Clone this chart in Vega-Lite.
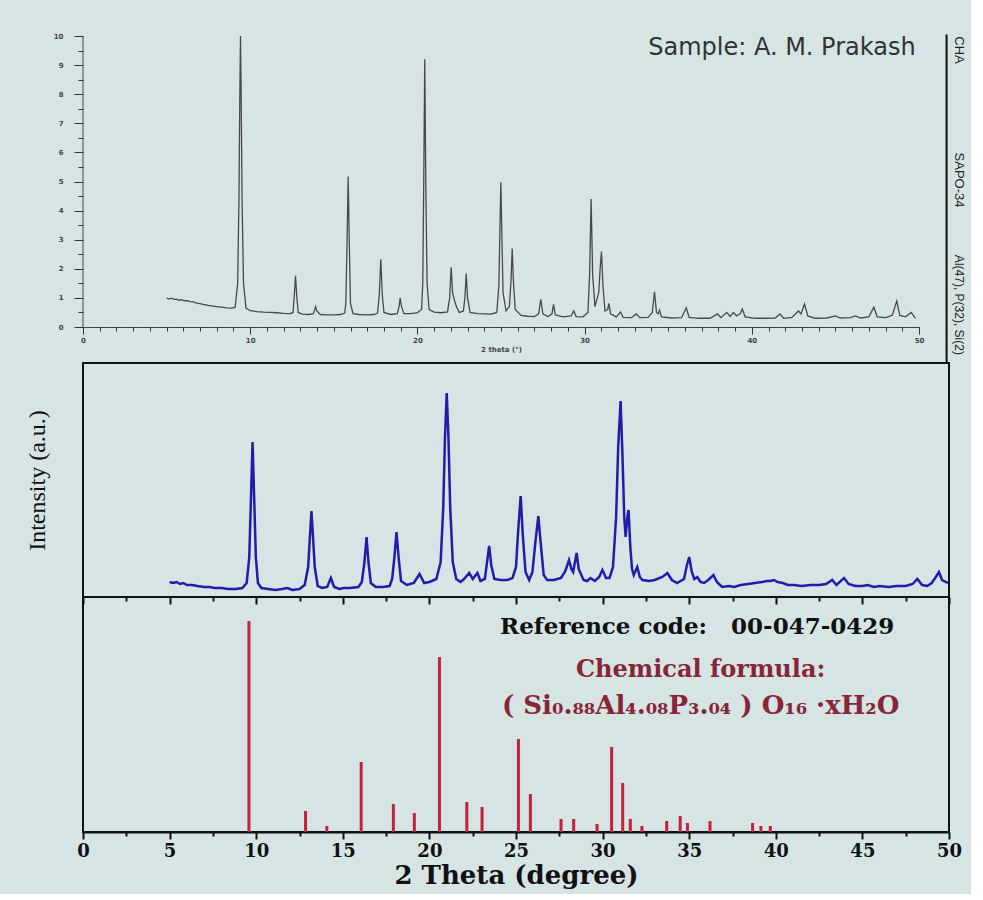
{
"$schema": "https://vega.github.io/schema/vega-lite/v6.json",
"background": "#d6e4e4",
"padding": {"left": 24, "top": 32, "right": 5, "bottom": 5},
"spacing": 0,
"bounds": "flush",
"config": {"view": {"stroke": null}, "axis": {"grid": false}},
"datasets": {
"top": [
{"a":5.0,"v":1.0},{"a":5.15,"v":0.96},{"a":5.3,"v":0.99},{"a":5.45,"v":0.95},{"a":5.6,"v":0.96},{"a":5.75,"v":0.92},{"a":5.9,"v":0.94},{"a":6.05,"v":0.9},{"a":6.2,"v":0.91},{"a":6.4,"v":0.87},{"a":6.6,"v":0.86},{"a":6.8,"v":0.82},{"a":7.0,"v":0.8},{"a":7.25,"v":0.77},{"a":7.5,"v":0.74},{"a":7.75,"v":0.72},{"a":8.0,"v":0.7},{"a":8.3,"v":0.68},{"a":8.6,"v":0.66},{"a":8.9,"v":0.65},{"a":9.1,"v":0.68},{"a":9.25,"v":1.5},{"a":9.33,"v":4.5},{"a":9.38,"v":8.0},{"a":9.42,"v":10.0},{"a":9.46,"v":8.0},{"a":9.51,"v":4.5},{"a":9.6,"v":1.5},{"a":9.75,"v":0.65},{"a":10.0,"v":0.56},{"a":10.4,"v":0.53},{"a":10.8,"v":0.51},{"a":11.2,"v":0.5},{"a":11.6,"v":0.49},{"a":12.0,"v":0.47},{"a":12.4,"v":0.46},{"a":12.56,"v":0.5},{"a":12.64,"v":1.1},{"a":12.71,"v":1.76},{"a":12.78,"v":1.1},{"a":12.87,"v":0.5},{"a":13.1,"v":0.44},{"a":13.5,"v":0.43},{"a":13.78,"v":0.46},{"a":13.85,"v":0.58},{"a":13.91,"v":0.7},{"a":13.98,"v":0.55},{"a":14.2,"v":0.43},{"a":14.6,"v":0.42},{"a":15.0,"v":0.42},{"a":15.4,"v":0.43},{"a":15.65,"v":0.48},{"a":15.72,"v":0.8},{"a":15.79,"v":2.8},{"a":15.86,"v":5.17},{"a":15.93,"v":2.8},{"a":16.0,"v":0.8},{"a":16.15,"v":0.46},{"a":16.5,"v":0.43},{"a":17.0,"v":0.42},{"a":17.4,"v":0.43},{"a":17.62,"v":0.48},{"a":17.72,"v":1.1},{"a":17.81,"v":2.33},{"a":17.9,"v":1.1},{"a":18.0,"v":0.5},{"a":18.4,"v":0.43},{"a":18.8,"v":0.46},{"a":18.9,"v":0.7},{"a":18.97,"v":1.0},{"a":19.05,"v":0.7},{"a":19.2,"v":0.46},{"a":19.6,"v":0.46},{"a":20.0,"v":0.49},{"a":20.25,"v":0.6},{"a":20.32,"v":1.5},{"a":20.38,"v":5.0},{"a":20.44,"v":9.2},{"a":20.5,"v":5.0},{"a":20.58,"v":1.5},{"a":20.7,"v":0.6},{"a":21.0,"v":0.51},{"a":21.4,"v":0.49},{"a":21.8,"v":0.52},{"a":21.93,"v":1.0},{"a":22.02,"v":2.05},{"a":22.1,"v":1.2},{"a":22.22,"v":0.9},{"a":22.35,"v":0.68},{"a":22.5,"v":0.5},{"a":22.75,"v":0.55},{"a":22.84,"v":1.0},{"a":22.92,"v":1.84},{"a":23.0,"v":1.0},{"a":23.15,"v":0.5},{"a":23.6,"v":0.46},{"a":24.0,"v":0.45},{"a":24.4,"v":0.44},{"a":24.75,"v":0.5},{"a":24.87,"v":1.4},{"a":24.93,"v":3.2},{"a":24.99,"v":4.97},{"a":25.05,"v":3.2},{"a":25.12,"v":1.2},{"a":25.3,"v":0.55},{"a":25.5,"v":0.7},{"a":25.6,"v":1.6},{"a":25.67,"v":2.7},{"a":25.74,"v":1.6},{"a":25.85,"v":0.6},{"a":26.2,"v":0.4},{"a":26.6,"v":0.37},{"a":27.0,"v":0.36},{"a":27.25,"v":0.45},{"a":27.38,"v":0.95},{"a":27.5,"v":0.45},{"a":27.8,"v":0.36},{"a":28.05,"v":0.45},{"a":28.14,"v":0.78},{"a":28.25,"v":0.42},{"a":28.7,"v":0.35},{"a":29.2,"v":0.38},{"a":29.35,"v":0.56},{"a":29.5,"v":0.36},{"a":29.9,"v":0.35},{"a":30.2,"v":0.5},{"a":30.3,"v":1.8},{"a":30.39,"v":4.4},{"a":30.48,"v":1.8},{"a":30.62,"v":0.7},{"a":30.85,"v":1.2},{"a":30.93,"v":2.0},{"a":31.01,"v":2.59},{"a":31.1,"v":1.4},{"a":31.22,"v":0.55},{"a":31.38,"v":0.6},{"a":31.45,"v":0.81},{"a":31.55,"v":0.45},{"a":31.9,"v":0.35},{"a":32.15,"v":0.52},{"a":32.3,"v":0.33},{"a":32.8,"v":0.32},{"a":33.09,"v":0.45},{"a":33.3,"v":0.32},{"a":33.8,"v":0.33},{"a":34.05,"v":0.5},{"a":34.18,"v":1.21},{"a":34.3,"v":0.5},{"a":34.4,"v":0.45},{"a":34.48,"v":0.58},{"a":34.6,"v":0.35},{"a":35.2,"v":0.31},{"a":35.8,"v":0.32},{"a":36.08,"v":0.66},{"a":36.25,"v":0.33},{"a":36.8,"v":0.3},{"a":37.5,"v":0.3},{"a":37.95,"v":0.45},{"a":38.15,"v":0.32},{"a":38.5,"v":0.5},{"a":38.7,"v":0.36},{"a":38.9,"v":0.5},{"a":39.1,"v":0.38},{"a":39.3,"v":0.45},{"a":39.43,"v":0.62},{"a":39.6,"v":0.35},{"a":40.2,"v":0.3},{"a":40.8,"v":0.3},{"a":41.4,"v":0.31},{"a":41.69,"v":0.45},{"a":41.9,"v":0.3},{"a":42.4,"v":0.33},{"a":42.79,"v":0.55},{"a":42.95,"v":0.45},{"a":43.15,"v":0.79},{"a":43.35,"v":0.38},{"a":43.8,"v":0.3},{"a":44.5,"v":0.31},{"a":45.0,"v":0.38},{"a":45.3,"v":0.31},{"a":45.9,"v":0.32},{"a":46.2,"v":0.38},{"a":46.5,"v":0.31},{"a":47.0,"v":0.35},{"a":47.3,"v":0.68},{"a":47.5,"v":0.35},{"a":48.0,"v":0.32},{"a":48.4,"v":0.4},{"a":48.67,"v":0.89},{"a":48.85,"v":0.4},{"a":49.2,"v":0.35},{"a":49.53,"v":0.5},{"a":49.79,"v":0.3}
],
"mid": [
{"a":5.0,"v":15},{"a":5.2,"v":14},{"a":5.4,"v":15},{"a":5.6,"v":13},{"a":5.8,"v":14},{"a":6.0,"v":12},{"a":6.3,"v":12},{"a":6.6,"v":11},{"a":7.0,"v":10},{"a":7.3,"v":10},{"a":7.6,"v":9},{"a":8.0,"v":9},{"a":8.4,"v":8},{"a":8.8,"v":8},{"a":9.2,"v":9},{"a":9.45,"v":14},{"a":9.6,"v":40},{"a":9.7,"v":100},{"a":9.79,"v":155},{"a":9.88,"v":100},{"a":9.98,"v":40},{"a":10.1,"v":14},{"a":10.3,"v":9},{"a":10.7,"v":8},{"a":11.1,"v":7},{"a":11.5,"v":8},{"a":11.8,"v":9},{"a":12.1,"v":7},{"a":12.5,"v":8},{"a":12.8,"v":12},{"a":13.0,"v":30},{"a":13.1,"v":60},{"a":13.19,"v":86},{"a":13.28,"v":60},{"a":13.38,"v":30},{"a":13.55,"v":11},{"a":13.8,"v":9},{"a":14.1,"v":10},{"a":14.31,"v":19},{"a":14.5,"v":10},{"a":14.8,"v":8},{"a":15.06,"v":9},{"a":15.4,"v":9},{"a":15.9,"v":10},{"a":16.1,"v":15},{"a":16.25,"v":35},{"a":16.37,"v":60},{"a":16.48,"v":35},{"a":16.62,"v":14},{"a":16.9,"v":10},{"a":17.3,"v":10},{"a":17.7,"v":11},{"a":17.85,"v":18},{"a":17.98,"v":40},{"a":18.1,"v":65},{"a":18.22,"v":40},{"a":18.36,"v":16},{"a":18.7,"v":12},{"a":19.1,"v":14},{"a":19.43,"v":23},{"a":19.7,"v":14},{"a":20.0,"v":15},{"a":20.4,"v":18},{"a":20.65,"v":35},{"a":20.8,"v":90},{"a":20.9,"v":160},{"a":21.0,"v":204},{"a":21.1,"v":160},{"a":21.2,"v":90},{"a":21.35,"v":35},{"a":21.55,"v":18},{"a":21.8,"v":15},{"a":22.0,"v":18},{"a":22.3,"v":24},{"a":22.5,"v":18},{"a":22.77,"v":24},{"a":22.95,"v":16},{"a":23.2,"v":18},{"a":23.33,"v":35},{"a":23.45,"v":51},{"a":23.57,"v":32},{"a":23.75,"v":18},{"a":24.1,"v":17},{"a":24.5,"v":17},{"a":24.8,"v":19},{"a":25.0,"v":30},{"a":25.12,"v":65},{"a":25.27,"v":101},{"a":25.4,"v":60},{"a":25.55,"v":25},{"a":25.76,"v":17},{"a":25.95,"v":25},{"a":26.12,"v":55},{"a":26.29,"v":81},{"a":26.42,"v":55},{"a":26.6,"v":22},{"a":26.8,"v":17},{"a":27.2,"v":17},{"a":27.6,"v":19},{"a":27.85,"v":26},{"a":28.06,"v":37},{"a":28.2,"v":28},{"a":28.3,"v":25},{"a":28.5,"v":44},{"a":28.62,"v":28},{"a":28.9,"v":17},{"a":29.1,"v":16},{"a":29.3,"v":19},{"a":29.55,"v":16},{"a":29.8,"v":20},{"a":29.99,"v":27},{"a":30.2,"v":19},{"a":30.4,"v":19},{"a":30.6,"v":30},{"a":30.78,"v":80},{"a":30.9,"v":150},{"a":31.04,"v":196},{"a":31.15,"v":140},{"a":31.25,"v":80},{"a":31.33,"v":60},{"a":31.43,"v":80},{"a":31.5,"v":87},{"a":31.6,"v":50},{"a":31.7,"v":28},{"a":31.8,"v":22},{"a":32.0,"v":30},{"a":32.15,"v":20},{"a":32.3,"v":17},{"a":32.7,"v":16},{"a":33.0,"v":17},{"a":33.45,"v":20},{"a":33.74,"v":24},{"a":34.0,"v":17},{"a":34.3,"v":14},{"a":34.7,"v":18},{"a":34.87,"v":32},{"a":35.0,"v":40},{"a":35.15,"v":25},{"a":35.3,"v":18},{"a":35.47,"v":20},{"a":35.65,"v":15},{"a":35.86,"v":14},{"a":36.1,"v":17},{"a":36.4,"v":22},{"a":36.6,"v":15},{"a":36.9,"v":10},{"a":37.3,"v":11},{"a":37.6,"v":10},{"a":37.97,"v":12},{"a":38.4,"v":13},{"a":38.8,"v":14},{"a":39.2,"v":15},{"a":39.5,"v":16},{"a":39.7,"v":16},{"a":39.9,"v":17},{"a":40.1,"v":15},{"a":40.4,"v":14},{"a":40.7,"v":12},{"a":41.05,"v":12},{"a":41.5,"v":11},{"a":42.0,"v":12},{"a":42.5,"v":12},{"a":42.9,"v":13},{"a":43.26,"v":17},{"a":43.5,"v":12},{"a":43.94,"v":19},{"a":44.2,"v":13},{"a":44.6,"v":11},{"a":45.0,"v":11},{"a":45.3,"v":12},{"a":45.67,"v":10},{"a":46.0,"v":11},{"a":46.5,"v":10},{"a":47.0,"v":11},{"a":47.5,"v":11},{"a":47.9,"v":13},{"a":48.17,"v":18},{"a":48.45,"v":12},{"a":48.75,"v":11},{"a":49.0,"v":14},{"a":49.2,"v":19},{"a":49.42,"v":25},{"a":49.6,"v":17},{"a":49.94,"v":14}
],
"bars": [
{"a":9.58,"v":211},{"a":12.85,"v":21},{"a":14.08,"v":6},{"a":16.06,"v":70},{"a":17.92,"v":28},{"a":19.13,"v":19},{"a":20.58,"v":175},{"a":22.16,"v":30},{"a":23.04,"v":25},{"a":25.14,"v":93},{"a":25.83,"v":38},{"a":27.6,"v":13},{"a":28.33,"v":13},{"a":29.68,"v":8},{"a":30.52,"v":85},{"a":31.16,"v":49},{"a":31.6,"v":13},{"a":32.27,"v":6},{"a":33.7,"v":11},{"a":34.48,"v":16},{"a":34.9,"v":9},{"a":36.2,"v":11},{"a":38.66,"v":9},{"a":39.14,"v":6},{"a":39.68,"v":6}
]
},
"vconcat": [
{
"width": 836, "height": 327,
"view": {"stroke": null},
"resolve": {"axis": {"x": "independent", "y": "independent"}},
"layer": [
{"data": {"name": "top"},
 "mark": {"type": "line", "color": "#484848", "strokeWidth": 1.3},
 "encoding": {
  "x": {"field": "a", "type": "quantitative", "scale": {"domain": [0, 50], "nice": false, "zero": false},
   "axis": {"orient": "bottom", "offset": -36, "values": [0,10,20,30,40,50], "format": "d",
    "tickSize": 7, "labelOverlap": false, "labelFlush": false,
    "labelFont": "DejaVu Sans", "labelFontSize": 7, "labelFontWeight": "bold", "labelColor": "#444", "labelPadding": 2,
    "domainColor": "#444", "tickColor": "#333", "tickWidth": 1,
    "title": "2 theta (°)", "titleFont": "DejaVu Sans", "titleFontSize": 7, "titleFontWeight": "bold", "titleColor": "#444", "titlePadding": 2}},
  "y": {"field": "v", "type": "quantitative", "scale": {"domain": [-1.237, 10], "nice": false, "zero": false},
   "axis": {"orient": "left", "values": [0,1,2,3,4,5,6,7,8,9,10], "format": "d",
    "tickSize": 9, "labelOverlap": false, "labelFlush": false, "domain": false,
    "labelFont": "DejaVu Sans", "labelFontSize": 7, "labelFontWeight": "bold", "labelColor": "#444", "labelPadding": 11,
    "tickColor": "#333", "tickWidth": 1, "title": null}}
 }},
{"data": {"values": [{}]}, "mark": {"type": "rule", "color": "#444", "strokeWidth": 1},
 "encoding": {
  "x": {"datum": 0, "axis": {"orient": "bottom", "offset": -36, "values": [0,1,2,3,4,5,6,7,8,9,10,11,12,13,14,15,16,17,18,19,20,21,22,23,24,25,26,27,28,29,30,31,32,33,34,35,36,37,38,39,40,41,42,43,44,45,46,47,48,49,50],
    "labels": false, "domain": false, "tickSize": 4, "tickColor": "#333", "tickWidth": 1, "title": null}},
  "y": {"datum": 0, "axis": {"orient": "left", "values": [0.5,1.5,2.5,3.5,4.5,5.5,6.5,7.5,8.5,9.5],
    "labels": false, "domain": false, "tickSize": 5, "tickColor": "#333", "tickWidth": 1, "title": null}},
  "y2": {"datum": 10}}},
{"data": {"values": [{}]}, "mark": {"type": "rule", "color": "#111", "strokeWidth": 2, "clip": false},
 "encoding": {"x": {"datum": 51.65, "axis": null}, "y": {"datum": -1.237, "axis": null}, "y2": {"datum": 10.05}}},
{"data": {"values": [{}]}, "mark": {"type": "text", "text": "Sample: A. M. Prakash", "font": "DejaVu Sans", "fontSize": 24, "color": "#333", "align": "right", "baseline": "middle"},
 "encoding": {"x": {"datum": 49.8, "axis": null}, "y": {"datum": 9.59, "axis": null}}},
{"data": {"values": [{}]}, "mark": {"type": "text", "text": "CHA", "font": "Liberation Sans", "fontSize": 13, "color": "#222", "angle": 90, "align": "center", "baseline": "middle", "clip": false},
 "encoding": {"x": {"datum": 52.42, "axis": null}, "y": {"datum": 9.52, "axis": null}}},
{"data": {"values": [{}]}, "mark": {"type": "text", "text": "SAPO-34", "font": "Liberation Sans", "fontSize": 13, "color": "#222", "angle": 90, "align": "center", "baseline": "middle", "clip": false},
 "encoding": {"x": {"datum": 52.42, "axis": null}, "y": {"datum": 5.05, "axis": null}}},
{"data": {"values": [{}]}, "mark": {"type": "text", "text": "Al(47), P(32), Si(2)", "font": "Liberation Sans", "fontSize": 12, "color": "#222", "angle": 90, "align": "center", "baseline": "middle", "clip": false},
 "encoding": {"x": {"datum": 52.42, "axis": null}, "y": {"datum": 0.76, "axis": null}}}
]
},
{
"width": 866, "height": 234,
"view": {"stroke": "#111", "strokeWidth": 2},
"data": {"name": "mid"},
"mark": {"type": "line", "color": "#1e1eaa", "strokeWidth": 2.5},
"encoding": {
 "x": {"field": "a", "type": "quantitative", "scale": {"domain": [0, 50], "nice": false, "zero": false},
  "axis": {"values": [0,2.5,5,7.5,10,12.5,15,17.5,20,22.5,25,27.5,30,32.5,35,37.5,40,42.5,45,47.5,50],
   "labels": false, "domain": false, "tickColor": "#111", "tickWidth": 2,
   "tickSize": {"condition": {"test": "datum.value % 5 === 0", "value": 7}, "value": 4}, "title": null}},
 "y": {"field": "v", "type": "quantitative", "scale": {"domain": [0, 234], "nice": false},
  "axis": {"labels": false, "ticks": false, "domain": false, "title": "Intensity (a.u.)",
   "titleFont": "Liberation Serif", "titleFontSize": 24, "titleFontWeight": "normal", "titleColor": "#111", "titlePadding": 34}}
}
},
{
"width": 866, "height": 235,
"view": {"stroke": "#111", "strokeWidth": 2},
"layer": [
{"data": {"name": "bars"},
 "mark": {"type": "rule", "color": "#c4223c", "strokeWidth": 3},
 "encoding": {
  "x": {"field": "a", "type": "quantitative", "scale": {"domain": [0, 50], "nice": false, "zero": false},
   "axis": {"values": [0,2.5,5,7.5,10,12.5,15,17.5,20,22.5,25,27.5,30,32.5,35,37.5,40,42.5,45,47.5,50],
    "labelExpr": "datum.value % 5 === 0 ? format(datum.value, 'd') : ''",
    "tickSize": {"condition": {"test": "datum.value % 5 === 0", "value": 7}, "value": 4},
    "tickWidth": 2, "tickColor": "#111", "domainColor": "#111", "domainWidth": 2,
    "labelFont": "DejaVu Serif", "labelFontWeight": "bold", "labelFontSize": 18, "labelColor": "#111", "labelPadding": 3,
    "labelFlush": false, "labelOverlap": false,
    "title": "2 Theta (degree)", "titleFont": "DejaVu Serif", "titleFontSize": 26, "titleFontWeight": "bold", "titleColor": "#111", "titlePadding": 2}},
  "y": {"field": "v", "type": "quantitative", "scale": {"domain": [0, 235], "nice": false}, "axis": null},
  "y2": {"datum": 0}
 }},
{"data": {"values": [{}]}, "mark": {"type": "text", "text": "Reference code:\u00a0\u00a0\u00a000-047-0429", "font": "DejaVu Serif", "fontWeight": "bold", "fontSize": 23, "color": "#111", "align": "center", "baseline": "middle"},
 "encoding": {"x": {"datum": 35.46}, "y": {"datum": 205}}},
{"data": {"values": [{}]}, "mark": {"type": "text", "text": "Chemical formula:", "font": "DejaVu Serif", "fontWeight": "bold", "fontSize": 24, "color": "#862636", "align": "center", "baseline": "middle"},
 "encoding": {"x": {"datum": 35.66}, "y": {"datum": 162}}},
{"data": {"values": [{}]}, "mark": {"type": "text", "text": "( Si₀.₈₈Al₄.₀₈P₃.₀₄ ) O₁₆ ·xH₂O", "font": "DejaVu Serif", "fontWeight": "bold", "fontSize": 26, "color": "#862636", "align": "center", "baseline": "middle"},
 "encoding": {"x": {"datum": 35.66}, "y": {"datum": 126}}}
]
}
]
}
